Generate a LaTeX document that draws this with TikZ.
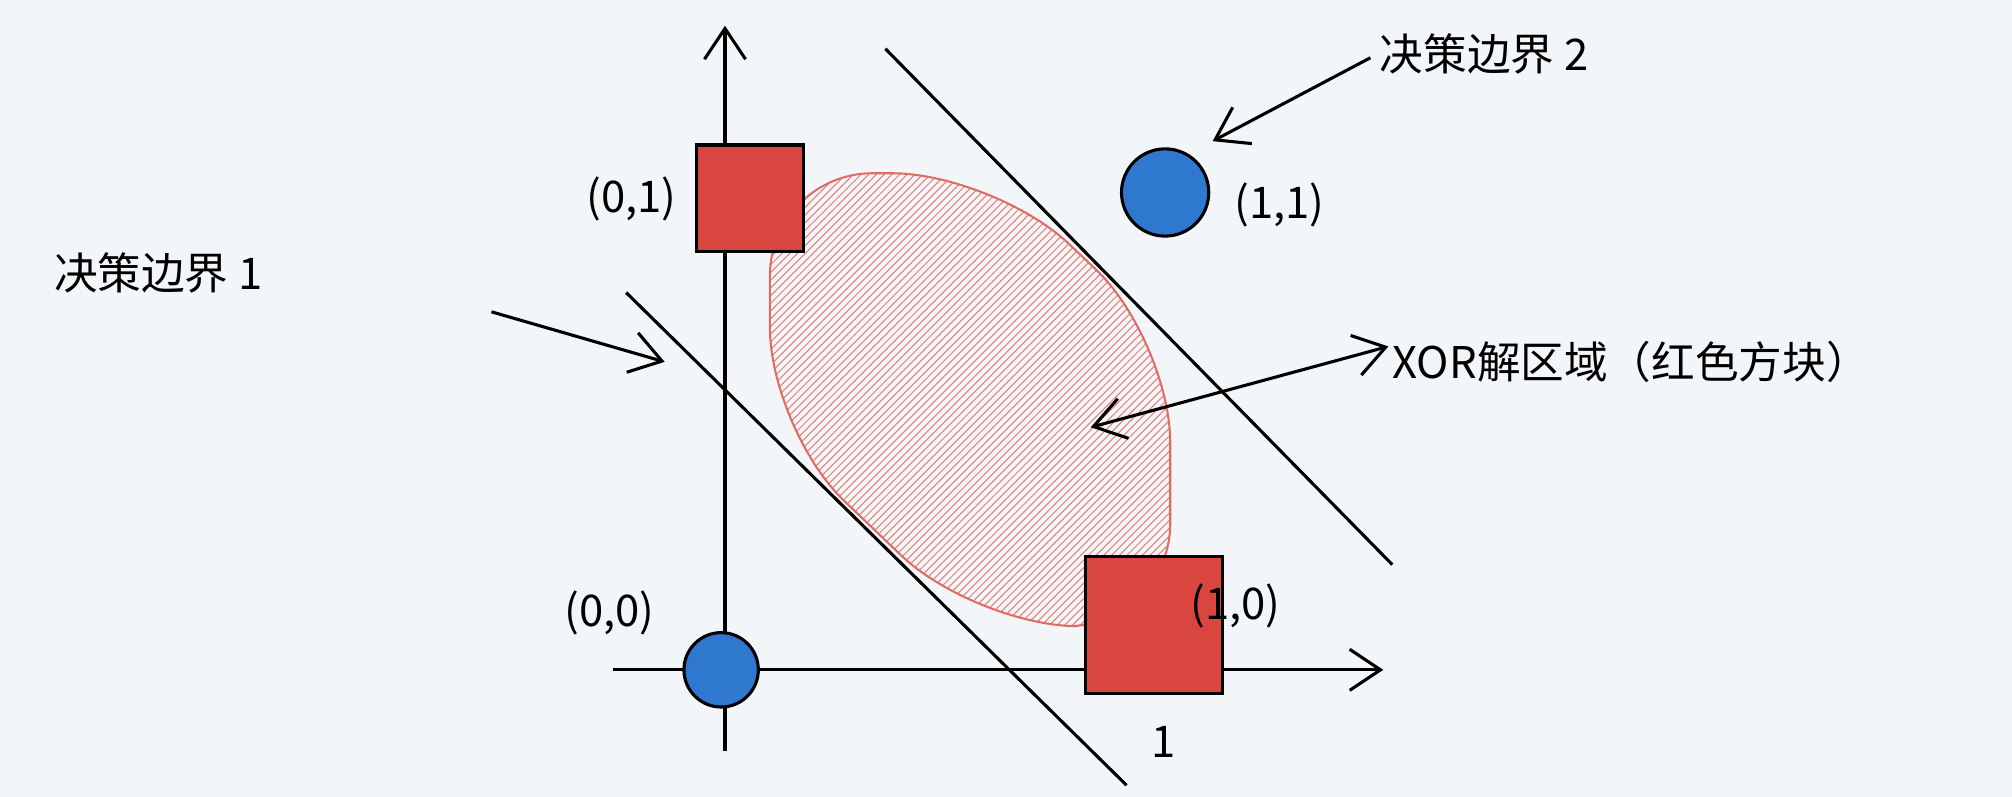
\documentclass[tikz,border=0pt]{standalone}
\usepackage{fontspec}
\setmainfont{Noto Sans CJK SC}
\usetikzlibrary{arrows.meta,patterns}
\definecolor{bg}{HTML}{F3F6F9}
\definecolor{sq}{HTML}{D9463F}
\definecolor{bl}{HTML}{2F78D0}
\begin{document}
\begin{tikzpicture}[x=0.5pt,y=-0.5pt,
  ar/.style={line width=1.2pt,-{Straight Barb[length=12pt,width=16pt,line width=1.2pt]}},
  lbl/.style={font=\fontsize{17}{20}\selectfont,inner sep=0pt},
  sqr/.style={fill=sq,draw=black,line width=1.2pt},
  cir/.style={circle,fill=bl,draw=black,line width=1.2pt,inner sep=0pt}]
\fill[bg] (0,0) rectangle (1568,621);
\useasboundingbox (0,0) rectangle (1568,621);
% hatched region
\path[rounded corners=40pt,draw=sq!80,line width=0.8pt,fill=sq!6,pattern color=sq!70,pattern=north east lines]
 (600,135) -- (775,135) -- (912,265) -- (912,488) -- (760,488) -- (600,335) -- cycle;
% axes
\coordinate (y0) at (565,585); \coordinate (y1) at (565,20);
\coordinate (x0) at (478,522); \coordinate (x1) at (1078,522);
\draw[ar] (y0) -- (y1);
\draw[ar] (x0) -- (x1);
% boundaries
\coordinate (a1) at (488,228); \coordinate (b1) at (878,612);
\coordinate (a2) at (690,38); \coordinate (b2) at (1085,440);
\draw[line width=1.2pt] (a1) -- (b1);
\draw[line width=1.2pt] (a2) -- (b2);
% points
\node[sqr,minimum size=41.5pt,inner sep=0pt] (s01) at (584.5,154.5) {};
\node[sqr,minimum size=53.5pt,inner sep=0pt] (s10) at (899.5,487) {};
\node[cir,minimum size=29pt] (c00) at (562,522) {};
\node[cir,minimum size=34pt] (c11) at (908,150) {};
% labels
\node[lbl] (l01) at (492,155) {(0,1)};
\node[lbl] (l11) at (997,160) {(1,1)};
\node[lbl] (l00) at (475,478) {(0,0)};
\node[lbl] (l10) at (963,472) {(1,0)};
\node[lbl] (l1) at (907,578) {1};
\node[lbl,anchor=west] (d2) at (1075,42) {决策边界 2};
\node[lbl,anchor=east] (d1) at (205,213) {决策边界 1};
\node[lbl,anchor=west] (xr) at (1085,282) {XOR解区域（红色方块）};
\coordinate (p2) at (1068,45); \coordinate (q2) at (945,110);
\draw[ar] (p2) -- (q2);
\coordinate (p1) at (383,243); \coordinate (q1) at (518,282);
\draw[ar] (p1) -- (q1);
\coordinate (p3) at (1082,270); \coordinate (q3) at (850,333);
\draw[ar,{Straight Barb[length=12pt,width=16pt,line width=1.2pt]}-{Straight Barb[length=12pt,width=16pt,line width=1.2pt]}] (p3) -- (q3);
\end{tikzpicture}
\end{document}
